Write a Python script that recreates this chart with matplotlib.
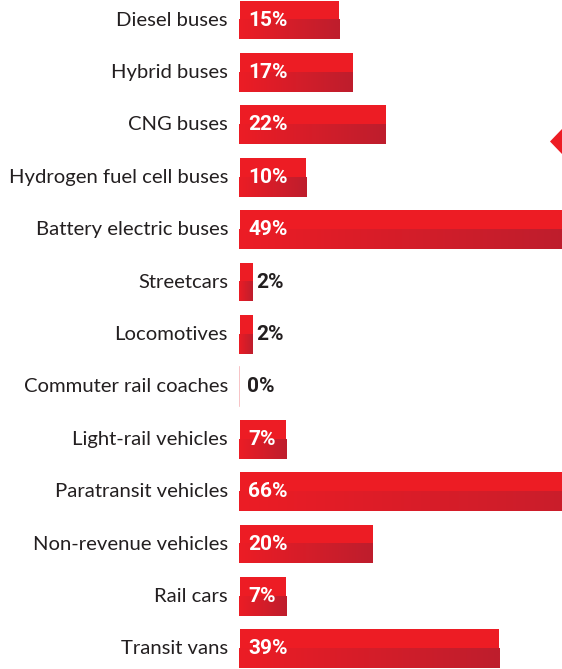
import numpy as np
import matplotlib.pyplot as plt
from matplotlib.colors import LinearSegmentedColormap
from matplotlib.patches import Polygon

categories = [
    "Diesel buses", "Hybrid buses", "CNG buses", "Hydrogen fuel cell buses",
    "Battery electric buses", "Streetcars", "Locomotives", "Commuter rail coaches",
    "Light-rail vehicles", "Paratransit vehicles", "Non-revenue vehicles",
    "Rail cars", "Transit vans",
]
values = [15, 17, 22, 10, 49, 2, 2, 0, 7, 66, 20, 7, 39]

RED = "#ED1C24"
DARK = "#BE1E2D"
grad = LinearSegmentedColormap.from_list("bar_grad", ["#EC1C25", DARK])

W, H = 562, 669
fig = plt.figure(figsize=(W / 100, H / 100), dpi=100)
ax = fig.add_axes([239 / W, 0, 1 - 239 / W, 1])

px_per_unit = 6.65
pitch = 52.4
top_center = 20
ax.set_xlim(0, (W - 239) / px_per_unit)
ax.set_ylim((H - top_center) / pitch, -top_center / pitch)
ax.axis("off")

h = 39 / pitch
for i, (cat, v) in enumerate(zip(categories, values)):
    if v > 0:
        # bright top half, shaded bottom half
        ax.barh(i - h / 4, v, height=h / 2, left=0.1, color=RED, linewidth=0)
        ax.imshow(np.linspace(0, 1, 256)[None, :], cmap=grad, aspect="auto",
                  extent=[-0.05, v + 0.1, i + h / 2, i], interpolation="bilinear", zorder=2)
    else:
        ax.plot([0.05, 0.05], [i - h / 2, i + h / 2], color="#F6B9BC", lw=1.2, zorder=2)

    if v >= 5:
        ax.annotate(f"{v}%", (0, i), xytext=(9, 0), textcoords="offset pixels",
                    ha="left", va="center", color="white", fontsize=15,
                    fontweight="bold", family="Roboto", zorder=3)
    else:
        off = 4 if v > 0 else 8
        ax.annotate(f"{v}%", (v, i), xytext=(off, 0), textcoords="offset pixels",
                    ha="left", va="center", color="#231F20", fontsize=15,
                    fontweight="bold", family="Roboto", zorder=3)

    ax.annotate(cat, (0, i), xytext=(-11, 0), textcoords="offset pixels",
                ha="right", va="center", color="#231F20", fontsize=14.6,
                family="Lato", annotation_clip=False)

# small marker at the right edge
tri = Polygon([(550 / W, 1 - 141.5 / H), (1, 1 - 129 / H), (1, 1 - 154 / H)],
              closed=True, transform=fig.transFigure, color=RED, linewidth=0)
fig.patches.append(tri)

fig.savefig("out.png", dpi=100)
